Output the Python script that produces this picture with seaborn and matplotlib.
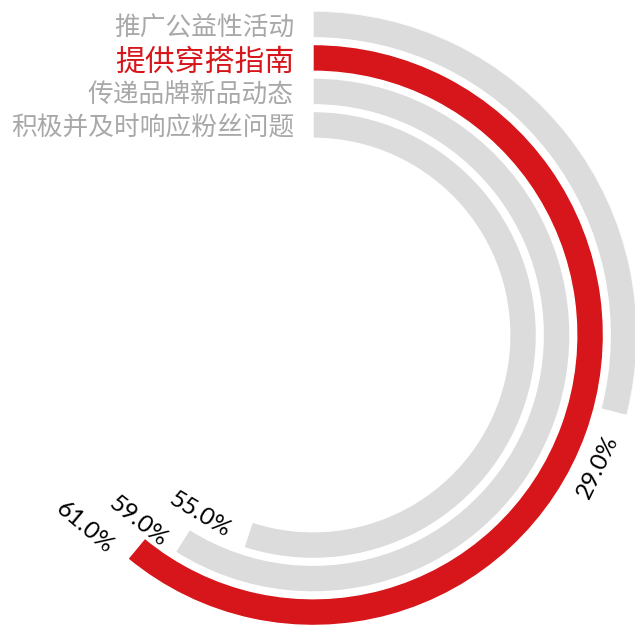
import numpy as np
import pandas as pd
import matplotlib
matplotlib.use("Agg")
import matplotlib.pyplot as plt
import matplotlib.transforms as mtransforms
import seaborn as sns

# Data
categories = ["推广公益性活动", "提供穿搭指南", "传递品牌新品动态", "积极并及时响应粉丝问题"]
percent = [29.0, 61.0, 59.0, 55.0]
highlight = "提供穿搭指南"

# Styling
RED = "#d7161b"
GREY = "#dcdcdc"
LABEL_GREY = "#a8a8a8"
# label placement beyond the end of each arc (degrees, ring units, rotation)
label_dtheta = [10.5, 10.2, 10.7, 14.1]
label_dr = [0.09, 0.63, 0.36, 0.06]
label_rot = [64, -40, -38, -31]

sns.set_theme(style="white")
plt.rcParams["font.family"] = ["Noto Sans CJK SC", "DejaVu Sans"]

W, H = 635, 631
fig = plt.figure(figsize=(W / 100, H / 100), dpi=100)
cx, cy, R = 313, 335, 324
ax = fig.add_axes([(cx - R) / W, 1 - (cy + R) / H, 2 * R / W, 2 * R / H],
                  projection="polar")

# innermost ring first, so the first category sits on the outside
order = categories[::-1]
df = pd.DataFrame({"category": categories, "percent": percent})
df["theta"] = df["percent"] / 100 * 2 * np.pi

palette = {c: (RED if c == highlight else GREY) for c in categories}
sns.barplot(data=df, x="theta", y="category", hue="category", order=order,
            hue_order=order, palette=palette, orient="y", width=0.8,
            errorbar=None, legend=False, saturation=1, ax=ax)

ax.set_theta_zero_location("N")
ax.set_theta_direction(-1)
ax.set_ylim(-6.27, 3.4)
ax.grid(False)
ax.set_xticks([])
ax.set_yticks([])
ax.set_xlabel("")
ax.set_ylabel("")
ax.spines["polar"].set_visible(False)
ax.patch.set_alpha(0)

# category names to the left of the arc starts
trans = mtransforms.offset_copy(ax.transData, fig=fig, x=-19, y=-4, units="dots")
for cat, pct in zip(categories, percent):
    p = order.index(cat)
    is_hl = cat == highlight
    ax.text(0, p, cat, transform=trans, ha="right", va="center",
            fontsize=21.5 if is_hl else 18.5, fontweight="light",
            color=RED if is_hl else LABEL_GREY)

# value labels just past the end of each arc
for i, (cat, pct) in enumerate(zip(categories, percent)):
    p = order.index(cat)
    th = pct / 100 * 2 * np.pi + np.deg2rad(label_dtheta[i])
    ax.text(th, p + label_dr[i], f"{pct:.1f}%", ha="center", va="center",
            rotation=label_rot[i], rotation_mode="anchor",
            fontsize=17.5, family=["Lato", "DejaVu Sans"], fontweight="normal",
            color="black")

fig.savefig("out.png", dpi=100)
